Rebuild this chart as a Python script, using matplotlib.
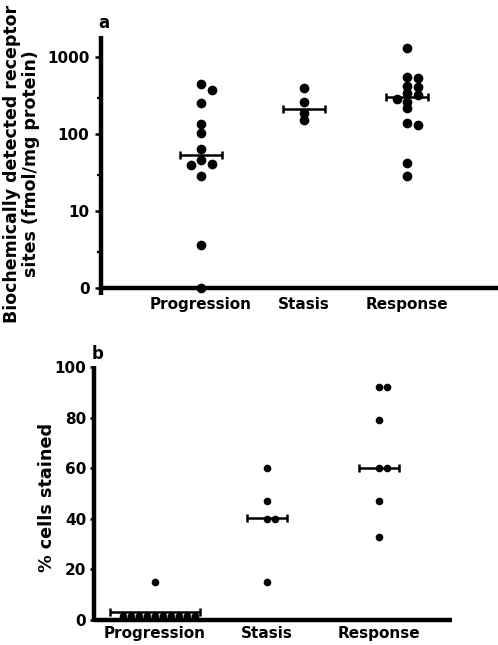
import numpy as np
import matplotlib.pyplot as plt

plt.rcParams['font.family'] = 'DejaVu Sans'

groups = ["Progression", "Stasis", "Response"]

# panel a: biochemically detected receptor sites (fmol/mg protein)
# the "0" on the log axis is drawn at 1
prog_a = [446, 376, 253, 135, 103, 64, 47, 41, 40, 29, 3.7, 1]
stasis_a = [396, 260, 187, 153]
resp_a = [1309, 560, 543, 428, 415, 341, 324, 287, 265, 218, 139, 132, 43, 29]
median_a = [54, 211, 302]
ticks_a = [1, 10, 100, 1000]
ticklabels_a = ["0", "10", "100", "1000"]
minor_a = [3, 30, 300]

# panel b: % cells stained
prog_b = [15, 1.5, 1.5, 1.5, 1.5, 1.5, 1.5, 1.5, 1.5, 1.5, 1.5]
stasis_b = [60, 47, 40, 40, 15]
resp_b = [92, 92, 79, 60, 60, 47, 33]
median_b = [3.3, 40.5, 60]
ticks_b = [0, 20, 40, 60, 80, 100]
minor_b = [5, 10, 15, 25, 30, 35, 45, 50, 55, 65, 70, 75, 85, 90, 95]

W, H = 498, 645
fig = plt.figure(figsize=(W / 100, H / 100), dpi=100)


def box(left, top, right, bottom):
    return [left / W, 1 - bottom / H, (right - left) / W, (bottom - top) / H]


def swarm(ax, xc, vals, diam, step):
    # simple beeswarm in pixel space: shift a dot sideways only when it would
    # sit on top of one already placed
    pix = ax.transData.transform(np.column_stack([np.full(len(vals), xc), vals]))
    order = np.argsort(-pix[:, 1], kind="stable")
    placed = []
    xs = np.zeros(len(vals))
    for i in order:
        px, py = pix[i]
        for k in [0, 1, -1, 2, -2, 3, -3, 4, -4, 5, -5, 6, -6]:
            cx = px + k * step
            if all(np.hypot(cx - qx, py - qy) >= diam for qx, qy in placed):
                break
        placed.append((cx, py))
        xs[i] = cx
    spread = np.max(np.abs(xs - pix[0, 0]))
    back = ax.transData.inverted().transform(np.column_stack([xs, pix[:, 1]]))
    return back[:, 0], spread


def panel(ax, data, medians, diam, step, msize, bar_half):
    x0 = ax.transData.transform((0, 1))[0]
    x1 = ax.transData.transform((1, 1))[0]
    ppu = x1 - x0
    for i, vals in enumerate(data):
        xc = i + 1
        xs, spread = swarm(ax, xc, vals, diam, step)
        ax.plot(xs, vals, 'o', color='black', ms=msize, mew=0, clip_on=False, zorder=4)
        h = max(bar_half, spread + 5) / ppu
        ax.errorbar(xc, medians[i], xerr=h, fmt='none', ecolor='black',
                    elinewidth=1.8, capsize=3.2, capthick=1.8, zorder=3)


def style(ax):
    for s in ['top', 'right']:
        ax.spines[s].set_visible(False)
    for s in ['left', 'bottom']:
        ax.spines[s].set_linewidth(3.2)
        ax.spines[s].set_capstyle('butt')
    ax.set_xticks([1, 2, 3])
    ax.set_xticklabels(groups, fontsize=11, fontweight='bold')
    ax.tick_params(axis='x', length=0)
    for t in ax.get_yticklabels():
        t.set_fontweight('bold')


# ---- panel a ----
ax1 = fig.add_axes(box(101, 36, 498, 295))
ax1.set_yscale('log')
ax1.set_ylim(0.82, 1890)
ax1.set_xlim(0.029, 3.883)
ax1.spines['bottom'].set_position(('data', 1))
ax1.set_yticks(ticks_a)
ax1.set_yticklabels(ticklabels_a, fontsize=11)
ax1.set_yticks(minor_a, minor=True)
ax1.yaxis.set_minor_formatter(plt.NullFormatter())
ax1.tick_params(axis='y', which='major', length=4.3, width=1.8, pad=4, direction='out')
ax1.tick_params(axis='y', which='minor', length=3, width=1.6, direction='out')
style(ax1)
ax1.tick_params(axis='x', pad=6)
panel(ax1, [prog_a, stasis_a, resp_a], median_a, 6.0, 10.5, 7, 21)

# ---- panel b ----
ax2 = fig.add_axes(box(94, 366, 452, 622))
ax2.set_ylim(-0.8, 100.5)
ax2.set_xlim(0.455, 3.651)
ax2.spines['bottom'].set_position(('data', 0))
ax2.set_yticks(ticks_b)
ax2.set_yticklabels([str(v) for v in ticks_b], fontsize=11)
ax2.set_yticks(minor_b, minor=True)
ax2.tick_params(axis='y', which='major', length=3, width=1.8, pad=2.5, direction='out')
ax2.tick_params(axis='y', which='minor', length=1.5, width=1.5, direction='out')
style(ax2)
ax2.tick_params(axis='x', pad=4)
panel(ax2, [prog_b, stasis_b, resp_b], median_b, 5.5, 8, 5.5, 20)

# labels
fig.text(21.5 / W, 1 - 164 / H, "Biochemically detected receptor\nsites (fmol/mg protein)",
         rotation=90, ha='center', va='center', fontsize=12.5, fontweight='bold',
         linespacing=1.1, multialignment='center')
fig.text(47 / W, 1 - 497 / H, "% cells stained", rotation=90, ha='center',
         va='center', fontsize=12.7, fontweight='bold')
fig.text(104 / W, 1 - 23 / H, "a", ha='center', va='center', fontsize=12, fontweight='bold')
fig.text(98 / W, 1 - 354 / H, "b", ha='center', va='center', fontsize=12, fontweight='bold')

fig.savefig("out.png", dpi=100)
